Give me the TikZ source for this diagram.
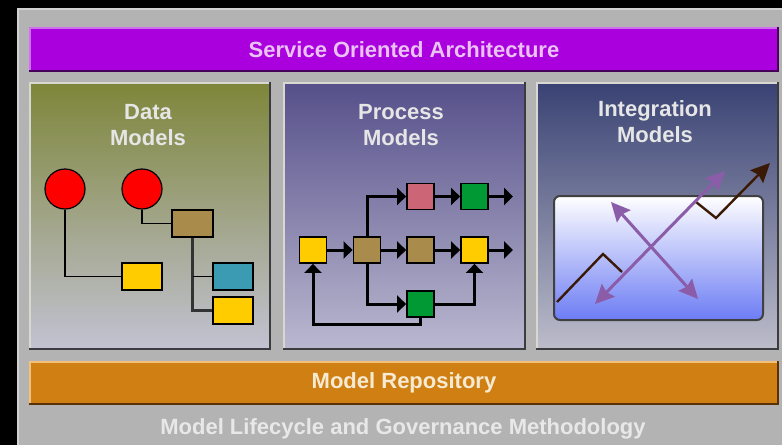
\documentclass[tikz,border=0pt]{standalone}
\usepackage{fontspec}
\setmainfont{Liberation Sans}
\usetikzlibrary{arrows.meta}

\definecolor{bg}{HTML}{B3B3B3}
\definecolor{bgedge}{HTML}{D2D2D2}
\definecolor{soa}{HTML}{AA00DD}
\definecolor{soalight}{HTML}{D070F0}
\definecolor{soadark}{HTML}{45005A}
\definecolor{soatext}{HTML}{EBC2F5}
\definecolor{repo}{HTML}{D08012}
\definecolor{repolight}{HTML}{F2C07A}
\definecolor{repodark}{HTML}{5A3005}
\definecolor{repotext}{HTML}{F7EAD2}
\definecolor{bottomtext}{HTML}{E8E8E8}
\definecolor{titlegray}{HTML}{E6E6E6}
\definecolor{oliveTop}{HTML}{7E863A}
\definecolor{oliveEnd}{HTML}{C2C2D2}
\definecolor{procTop}{HTML}{56508A}
\definecolor{procEnd}{HTML}{BAB8D0}
\definecolor{intTop}{HTML}{394273}
\definecolor{intEnd}{HTML}{BCBCCA}
\definecolor{panellight}{HTML}{D8D8D0}
\definecolor{paneldark}{HTML}{3C3C40}
\definecolor{brownbox}{HTML}{A98B4B}
\definecolor{goldbox}{HTML}{FFCC00}
\definecolor{tealbox}{HTML}{3A9BB2}
\definecolor{pinkbox}{HTML}{CC6677}
\definecolor{greenbox}{HTML}{009933}
\definecolor{wire}{HTML}{3A1A05}
\definecolor{cross}{HTML}{8B5CA8}
\definecolor{screenlow}{HTML}{6C7CF4}
\definecolor{screenedge}{HTML}{404040}

\newfontfamily\headfont{Liberation Sans}

\tikzset{
  bigtip/.tip={Stealth[length=19pt,width=18pt,inset=2.5pt]},
  flowtip/.tip={Triangle[length=9pt,width=17pt]},
  bar/.style={minimum width=748pt, inner sep=0pt, font=\headfont\bfseries\fontsize{22}{26}\selectfont},
  panel/.style={minimum width=241pt, minimum height=266pt, inner sep=0pt},
  title/.style={text=titlegray, align=center, inner sep=0pt,
    font=\headfont\bfseries\fontsize{22}{26}\selectfont},
  litedge/.style={line width=1.5pt, line cap=rect},
  darkedge/.style={line width=2pt, line cap=rect},
  dbox/.style={draw=black, line width=1.3pt, minimum width=40pt, minimum height=27pt, inner sep=0pt},
  ball/.style={circle, draw=black, line width=1.2pt, fill=red, minimum size=40pt, inner sep=0pt},
  link/.style={line width=1.6pt},
  pbox/.style={draw=black, line width=1.8pt, minimum width=27pt, minimum height=26pt, inner sep=0pt},
  flow/.style={line width=3pt, -flowtip},
  crossarrow/.style={cross, line width=3pt, bigtip-bigtip},
  wireline/.style={wire, line width=2.4pt, line join=miter},
}

\begin{document}
\begin{tikzpicture}[x=1pt, y=-1pt]
  \useasboundingbox (0,0) rectangle (782,445);
  \fill[black] (0,0) rectangle (782,445);

  % grey frame
  \fill[bg] (17,8) rectangle (782,445);
  \draw[bgedge, line width=2pt] (18,445) -- (18,9) -- (782,9);

  % top bar
  \node[bar, fill=soa, minimum height=43pt, text=soatext] (soa) at (404,49.5) {Service Oriented Architecture};
  \draw[soalight, litedge] (soa.south west) -- (soa.north west) -- (soa.north east);
  \draw[soadark, darkedge] (soa.north east) -- (soa.south east) -- (soa.south west);

  % three model panels
  \node[panel, top color=oliveTop, bottom color=oliveEnd, minimum width=240pt] (dp) at (150,216) {};
  \node[panel, top color=procTop, bottom color=procEnd] (pp) at (404.5,216) {};
  \node[panel, top color=intTop, bottom color=intEnd] (ip) at (657.5,216) {};
  \foreach \p in {dp,pp,ip}{
    \draw[panellight, litedge] (\p.south west) -- (\p.north west) -- (\p.north east);
    \draw[paneldark, darkedge] (\p.north east) -- (\p.south east) -- (\p.south west);
  }

  \node[title] (dt) at (148,125) {Data\\Models};
  \node[title] (pt) at (401,125) {Process\\Models};
  \node[title] (it) at (655,121.5) {Integration\\Models};

  % data models: entities and relations
  \node[ball] (c1) at (65,189) {};
  \node[ball] (c2) at (142,189) {};
  \node[dbox, fill=brownbox, minimum width=41pt] (br) at (192.5,223.5) {};
  \node[dbox, fill=goldbox] (y1) at (142,276.5) {};
  \node[dbox, fill=tealbox] (tl) at (233,276.5) {};
  \node[dbox, fill=goldbox] (y2) at (233,310.5) {};
  \draw[link] (c1.south) |- (y1.west);
  \draw[link] (c2.south) |- (br.west);
  \draw[link, black!80, line width=2.2pt] (br.south) |- (y2.west);
  \draw[link] (br.south |- tl.west) -- (tl.west);

  % process models: flow of steps
  \node[pbox, fill=goldbox] (A) at (313,250) {};
  \node[pbox, fill=brownbox] (B) at (367,250) {};
  \node[pbox, fill=brownbox] (C) at (420.5,250) {};
  \node[pbox, fill=goldbox] (D) at (474.5,250) {};
  \node[pbox, fill=pinkbox] (E) at (420.5,196.5) {};
  \node[pbox, fill=greenbox] (F) at (474.5,196.5) {};
  \node[pbox, fill=greenbox] (G) at (420.5,304) {};
  \coordinate (outD) at (513,250);
  \coordinate (outF) at (513,196.5);
  \coordinate (loop) at (313,324);
  \draw[flow] (A) -- (B);
  \draw[flow] (B) -- (C);
  \draw[flow] (C) -- (D);
  \draw[flow] (D) -- (outD);
  \draw[flow] (E) -- (F);
  \draw[flow] (F) -- (outF);
  \draw[flow] (B.north) |- (E.west);
  \draw[flow] (B.south) |- (G.west);
  \draw[flow] (G.east) -| (D.south);
  \draw[flow] (G.south) |- (loop) -- (A.south);

  % integration models: screen with crossing links
  \node[draw=screenedge, line width=2pt, rounded corners=6pt, top color=white, bottom color=screenlow,
        minimum width=209pt, minimum height=124pt, inner sep=0pt] (scr) at (658.5,258) {};
  \coordinate (w1) at (557,302);
  \coordinate (w2) at (603,254);
  \coordinate (w3) at (622,272);
  \coordinate (v1) at (696,202);
  \coordinate (v2) at (716,218);
  \coordinate (v3) at (770,163);
  \draw[wireline] (w1) -- (w2) -- (w3);
  \draw[wireline, -bigtip] (v1) -- (v2) -- (v3);
  \coordinate (xa1) at (595,304);
  \coordinate (xa2) at (725,171);
  \coordinate (xb1) at (611,202);
  \coordinate (xb2) at (698,299);
  \draw[crossarrow] (xa1) -- (xa2);
  \draw[crossarrow] (xb1) -- (xb2);

  % repository bar and methodology caption
  \node[bar, fill=repo, minimum height=42pt, text=repotext] (rep) at (404,383) {Model Repository};
  \draw[repolight, litedge] (rep.south west) -- (rep.north west) -- (rep.north east);
  \draw[repodark, darkedge] (rep.north east) -- (rep.south east) -- (rep.south west);

  \node[text=bottomtext, inner sep=0pt, font=\headfont\bfseries\fontsize{22}{26}\selectfont] (meth) at (403,429) {Model Lifecycle and Governance Methodology};
\end{tikzpicture}
\end{document}
